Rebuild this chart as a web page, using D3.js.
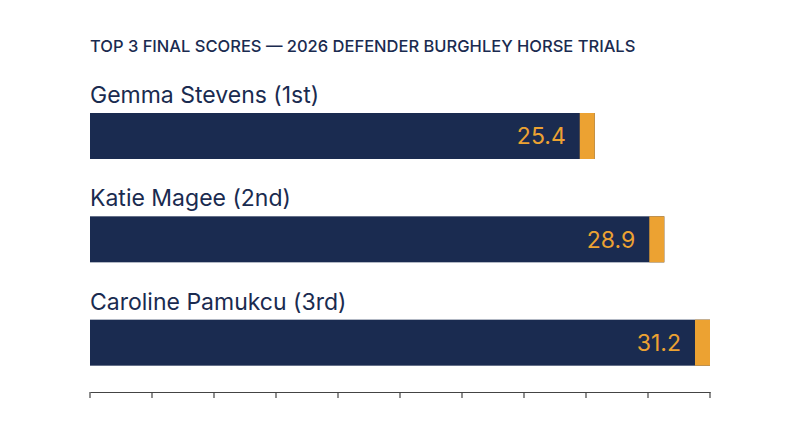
<!DOCTYPE html>
<html>
<head>
<meta charset="utf-8">
<script src="https://cdn.jsdelivr.net/npm/d3@7"></script>
<style>
  body { margin: 0; background: #fff; }
  text { font-family: Inter, "Noto Sans", sans-serif; }
</style>
</head>
<body>
<div id="chart"></div>
<script>
// données
const riders = ["Gemma Stevens (1st)", "Katie Magee (2nd)", "Caroline Pamukcu (3rd)"];
const scores = [25.4, 28.9, 31.2];
const tickDivisions = 10;

const width = 800, height = 447;
const navy = "#1a2b50", orange = "#eca232";

const svg = d3.select("#chart").append("svg")
    .attr("width", width)
    .attr("height", height);

// Titre
svg.append("text")
    .attr("x", 90)
    .attr("y", 52)
    .style("font-size", "16.5px")
    .style("font-weight", "500")
    .attr("fill", navy)
    .text("TOP 3 FINAL SCORES — 2026 DEFENDER BURGHLEY HORSE TRIALS");

const maxScore = d3.max(scores);
const x = d3.scaleLinear().domain([0, maxScore]).range([90, 710]);
const y = d3.scaleBand().domain(riders).range([113 - 57, 365 + 1]).paddingInner(0);

const capWidth = 15;
const barHeight = 46;

const g = svg.selectAll("g.row")
    .data(riders)
    .enter().append("g")
    .attr("class", "row")
    .attr("transform", d => "translate(0," + y(d) + ")");

// Nom du cavalier
g.append("text")
    .attr("x", 90)
    .attr("y", 47)
    .style("font-size", "23px")
    .attr("fill", navy)
    .text(d => d);

// Barre
g.append("rect")
    .attr("x", x(0))
    .attr("y", 57)
    .attr("width", (d, i) => x(scores[i]) - x(0))
    .attr("height", barHeight)
    .attr("fill", navy);

// Embout orange
g.append("rect")
    .attr("x", (d, i) => x(scores[i]) - capWidth)
    .attr("y", 57)
    .attr("width", capWidth)
    .attr("height", barHeight)
    .attr("fill", orange);

// Valeur
g.append("text")
    .attr("x", (d, i) => x(scores[i]) - capWidth - 14)
    .attr("y", 57 + barHeight / 2)
    .attr("dy", ".36em")
    .attr("text-anchor", "end")
    .style("font-size", "23px")
    .attr("fill", orange)
    .text((d, i) => scores[i].toFixed(1));

// Axe
const ticks = d3.range(0, tickDivisions + 1).map(i => maxScore * i / tickDivisions);
const axis = svg.append("g")
    .attr("transform", "translate(0,392)")
    .call(d3.axisTop(x).tickValues(ticks).tickSize(6).tickSizeOuter(0).tickFormat(""));
axis.select(".domain").attr("stroke", "#444").attr("stroke-width", 1.2);
axis.selectAll(".tick line").attr("stroke", "#444").attr("stroke-width", 1.2)
    .attr("y2", -6);
axis.selectAll(".tick").attr("transform", d => "translate(" + x(d) + ",0) scale(1,-1)");
</script>
</body>
</html>
